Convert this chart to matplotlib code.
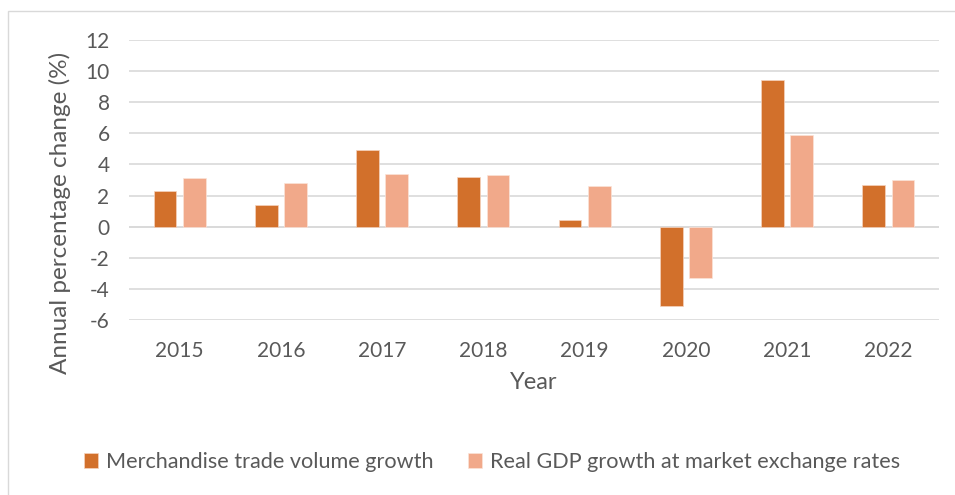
import matplotlib
matplotlib.use("Agg")
import matplotlib.pyplot as plt
import numpy as np
from matplotlib.patches import Rectangle

years = ["2015", "2016", "2017", "2018", "2019", "2020", "2021", "2022"]
trade_growth = [2.3, 1.4, 4.9, 3.2, 0.4, -5.1, 9.4, 2.7]
gdp_growth = [3.1, 2.8, 3.4, 3.3, 2.6, -3.3, 5.9, 3.0]
yticks = [-6, -4, -2, 0, 2, 4, 6, 8, 10, 12]

plt.rcParams['font.family'] = ['Lato', 'DejaVu Sans']
txt = '#595959'
c_trade = '#D2702B'
c_gdp = '#F1A98A'

fig = plt.figure(figsize=(9.55, 4.95), dpi=100)
fig.patches.append(Rectangle((8/955, -0.1), 1.0, 1.1 - 10.5/495, transform=fig.transFigure,
                             fill=False, edgecolor='#D9D9D9', linewidth=1.0))
ax = fig.add_axes([129/955, 1 - 320/495, 810/955, 280/495])

x = np.arange(len(years))
w = 0.224
off = 0.144
ax.bar(x - off, trade_growth, width=w, color=c_trade, edgecolor='#F6D3BE', linewidth=0.5, zorder=3,
       label='Merchandise trade volume growth')
ax.bar(x + off, gdp_growth, width=w, color=c_gdp, edgecolor='#FBE3D8', linewidth=0.5, zorder=3,
       label='Real GDP growth at market exchange rates')

ax.set_xlim(-0.5, len(years) - 0.5)
ax.set_ylim(-6, 12)
ax.set_yticks(yticks)
ax.set_yticklabels([str(v) for v in yticks])
ax.set_xticks(x)
ax.set_xticklabels(years)
ax.yaxis.grid(True, color='#D9D9D9', linewidth=1.2, zorder=0)
ax.axhline(0, color='#D9D9D9', linewidth=1.2, zorder=2)
for s in ax.spines.values():
    s.set_visible(False)
ax.tick_params(axis='both', length=0, colors=txt, labelsize=15)
ax.tick_params(axis='y', pad=14)
ax.tick_params(axis='x', pad=15)
ax.set_xlabel('Year', color=txt, fontsize=17, labelpad=8)
ax.set_ylabel('Annual percentage change (%)', color=txt, fontsize=17.5)
ax.yaxis.set_label_coords(-0.071, 0.382)

leg = fig.legend(loc='center', bbox_to_anchor=(492/955, 1 - 462/495), ncol=2, frameon=False,
                 fontsize=15.6, handlelength=0.65, handleheight=0.65, handletextpad=0.35,
                 columnspacing=1.6, labelcolor=txt)

fig.savefig('out.png', dpi=100)
